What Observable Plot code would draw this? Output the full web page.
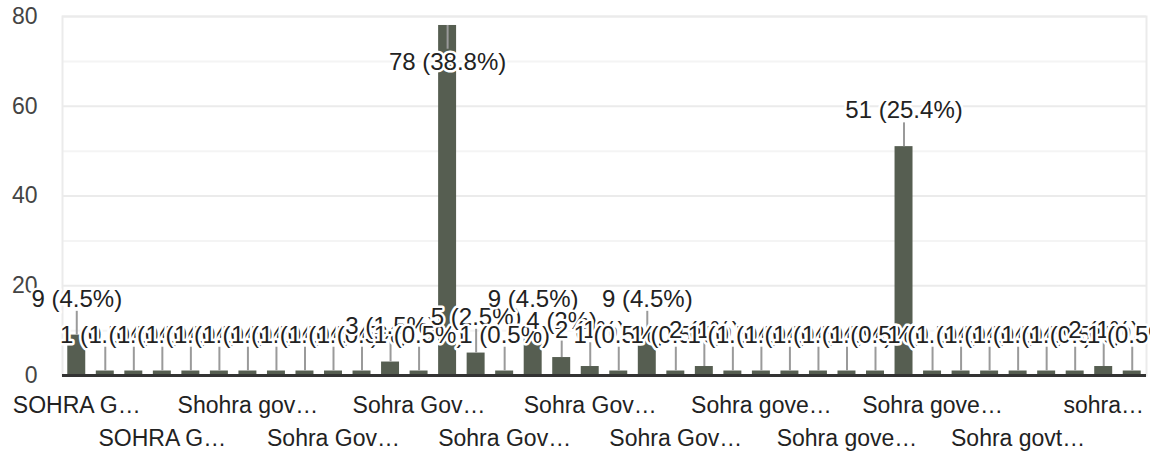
<!DOCTYPE html>
<html>
<head>
<meta charset="utf-8">
<script src="https://cdn.jsdelivr.net/npm/d3@7"></script>
<script src="https://cdn.jsdelivr.net/npm/@observablehq/plot@0.6"></script>
<style>
  html, body { margin: 0; padding: 0; background: #fff; }
  #chart { width: 1150px; height: 453px; }
</style>
</head>
<body>
<div id="chart"></div>
<script>
// ---- data ----
const categories = [
  "SOHRA GOVT. HR. SEC. SCHOOL",
  "SOHRA GOVT HIGHER SECONDARY SCHOOL",
  "SOHRA GOVERNMENT COLLEGE",
  "SOHRA GOVT. COLLEGE",
  "Shohra Government College",
  "Shohra govt college",
  "Shohra government college",
  "Sohra Govt. Hr. Sec. School",
  "Sohra Govt College, Sohra",
  "Sohra Government Hr. Sec. School",
  "Sohra Govt. College Sohra",
  "Sohra Govt Higher Secondary",
  "Sohra Government College",
  "Sohra Govt. College",
  "Sohra Govt College",
  "Sohra Government Higher Secondary School",
  "Sohra Govt. Higher Sec. School",
  "Sohra Govt HSS",
  "Sohra Govt. H.S. School",
  "Sohra Govt Hr Sec School",
  "Sohra Govt. College, Cherrapunjee",
  "Sohra Government Hr Sec",
  "Sohra Govt. Hr. Sec. School, Sohra",
  "Sohra Govt. College Cherrapunji",
  "Sohra government college",
  "Sohra government hr. sec. school",
  "Sohra government higher secondary",
  "Sohra government higher secondary school",
  "Sohra government hss",
  "Sohra government hr sec school",
  "Sohra government college sohra",
  "Sohra government H.S.S",
  "Sohra govt. hr. sec. school",
  "Sohra govt college",
  "Sohra govt. college",
  "Sohra govt hss",
  "sohra govt college",
  "sohra government college"
];
const counts = [9,1,1,1,1,1,1,1,1,1,1,3,1,78,5,1,9,4,2,1,9,1,2,1,1,1,1,1,1,51,1,1,1,1,1,1,2,1];
const tickLabels = ["SOHRA G…","SOHRA G…","Shohra gov…","Sohra Gov…","Sohra Gov…","Sohra Gov…","Sohra Gov…","Sohra Gov…","Sohra gove…","Sohra gove…","Sohra gove…","Sohra govt…","sohra…"];
const yTicks = [0,20,40,60,80];
const yMinor = [10,30,50,70];

// ---- derived table ----
const total = d3.sum(counts);
const data = categories.map((c, i) => ({
  category: c,
  value: counts[i],
  label: `${counts[i]} (${+(counts[i] / total * 100).toFixed(1)}%)`
}));
const yMax = 80;
const inside = d => d.value + 9 > yMax;
const outside = d => !inside(d);
const tickIndex = new Map(categories.map((c, i) => [c, i]));
const row1 = categories.filter((c, i) => i % 6 === 0);
const row2 = categories.filter((c, i) => i % 6 === 3);
const fmt = c => tickLabels[tickIndex.get(c) / 3];

const chart = Plot.plot({
  width: 1150,
  height: 453,
  marginTop: 16,
  marginBottom: 78,
  marginLeft: 62,
  marginRight: 4,
  style: { fontFamily: "'Liberation Sans', Arial, sans-serif", fontSize: "23px", background: "#fff", color: "#222" },
  x: { domain: categories, paddingInner: 0.37, paddingOuter: 0.185, round: false, axis: null },
  y: { domain: [0, yMax], axis: null },
  marks: [
    Plot.ruleY(yMinor, { stroke: "#f4f4f4", strokeWidth: 2 }),
    Plot.ruleY(yTicks, { stroke: "#ebebeb", strokeWidth: 2 }),
    Plot.frame({ stroke: "#ebebeb", strokeWidth: 2 }),
    Plot.axisY({ ticks: yTicks, label: null, tickSize: 0, tickPadding: 25, fontSize: 23, color: "#444" }),
    Plot.barY(data, { x: "category", y: "value", fill: "#565e51" }),
    Plot.ruleY([0], { stroke: "#333", strokeWidth: 3 }),
    Plot.ruleX(data.filter(outside), { x: "category", y1: "value", y2: d => d.value + 5.3, stroke: "#9a9a9a", strokeWidth: 2 }),
    Plot.ruleX(data.filter(inside), { x: "category", y1: "value", y2: d => d.value - 5.3, stroke: "#9a9a9a", strokeWidth: 2 }),
    Plot.text(data.filter(outside), { x: "category", y: "value", text: "label", dy: -36, fill: "#222", stroke: "#fff", strokeWidth: 5, fontSize: 24 }),
    Plot.text(data.filter(inside), { x: "category", y: "value", text: "label", dy: 37, fill: "#222", stroke: "#fff", strokeWidth: 5, fontSize: 24 }),
    Plot.axisX({ ticks: row1, label: null, tickFormat: fmt, tickSize: 0, tickPadding: 21, fontSize: 23, color: "#222" }),
    Plot.axisX({ ticks: row2, label: null, tickFormat: fmt, tickSize: 0, tickPadding: 54, fontSize: 23, color: "#222" })
  ]
});
document.getElementById("chart").appendChild(chart);
</script>
</body>
</html>
